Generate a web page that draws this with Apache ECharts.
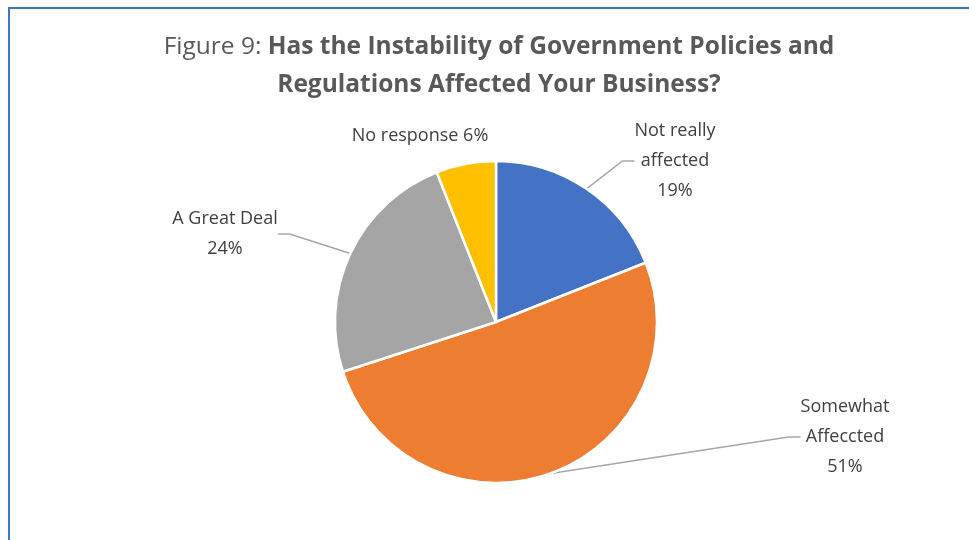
<!DOCTYPE html>
<html>
<head>
<meta charset="utf-8">
<script src="https://cdn.jsdelivr.net/npm/echarts@6/dist/echarts.min.js"></script>
<style>
  html, body { margin: 0; padding: 0; background: #ffffff; }
  #chart { width: 969px; height: 540px; }
</style>
</head>
<body>
<div id="chart"></div>
<script>
// Survey responses, clockwise from 12 o'clock
const categories = ['Not really\naffected', 'Somewhat\nAffeccted', 'A Great Deal', 'No response'];
const shares = [19, 51, 24, 6];
const sliceColors = ['#4472C4', '#ED7D31', '#A5A5A5', '#FFC000'];

// Where each label block sits (centre of the text block)
const labelSpots = [
  { x: 675, y: 161 },
  { x: 845, y: 437 },
  { x: 225, y: 234 },
  { x: 420, y: 136 }
];

const chart = echarts.init(document.getElementById('chart'), null, { renderer: 'canvas' });

const FONT = '"Open Sans", "Noto Sans", sans-serif';

chart.setOption({
  backgroundColor: '#ffffff',
  animation: false,
  graphic: [{
    type: 'rect',
    shape: { x: 9, y: 8, width: 1000, height: 600 },
    style: { fill: 'none', stroke: '#4472C4', lineWidth: 2 },
    silent: true
  }, {
    // two-line heading, centred over the pie
    type: 'text',
    x: 499,
    y: 28,
    silent: true,
    style: {
      text: '{n|Figure 9: }{b|Has the Instability of Government Policies and}\n{b|Regulations Affected Your Business?}',
      align: 'center',
      verticalAlign: 'top',
      rich: {
        n: { fontFamily: FONT, fontSize: 24.5, fontWeight: 'normal', fill: '#595959', lineHeight: 38 },
        b: { fontFamily: FONT, fontSize: 24.5, fontWeight: 'bold', fill: '#595959', lineHeight: 38 }
      }
    }
  }],
  series: [{
    type: 'pie',
    center: [496, 322],
    radius: ['0%', 161],
    startAngle: 90,
    clockwise: true,
    avoidLabelOverlap: false,
    itemStyle: { borderColor: '#ffffff', borderWidth: 2.5 },
    label: {
      show: true,
      position: 'outside',
      formatter: p => p.name + (p.dataIndex === 3 ? ' ' : '\n') + p.value + '%',
      fontFamily: FONT,
      fontSize: 18,
      lineHeight: 30,
      color: '#404040',
      align: 'center'
    },
    labelLine: {
      show: true,
      length: 20,
      length2: 12,
      lineStyle: { color: '#A6A6A6', width: 1.5 }
    },
    labelLayout: function (params) {
      const s = labelSpots[params.dataIndex];
      return {
        x: s.x,
        y: s.y,
        align: 'center',
        verticalAlign: 'middle'
      };
    },
    data: categories.map((name, i) => ({
      name: name,
      value: shares[i],
      itemStyle: { color: sliceColors[i] },
      labelLine: { show: i !== 3 }
    }))
  }]
});
</script>
</body>
</html>
